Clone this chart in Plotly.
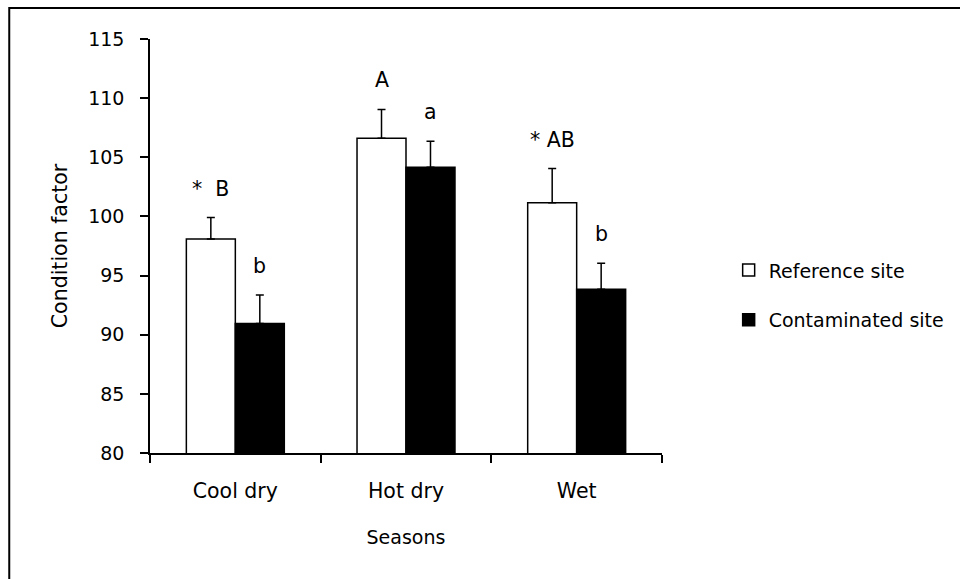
import plotly.graph_objects as go

seasons = ["Cool dry", "Hot dry", "Wet"]
reference_mean = [98.1, 106.6, 101.15]
reference_err = [1.8, 2.45, 2.9]
contaminated_mean = [90.95, 104.15, 93.85]
contaminated_err = [2.4, 2.2, 2.2]
reference_labels = ["*  B", "A", "* AB"]
contaminated_labels = ["b", "a", "b"]
y_ticks = [80, 85, 90, 95, 100, 105, 110, 115]

FONT = "DejaVu Sans"
FS = 19
tfont = dict(family=FONT, size=FS, color="black")
bigfont = dict(family=FONT, size=20.5, color="black")

fig = go.Figure()
fig.add_trace(go.Bar(
    name="Reference site", x=seasons, y=reference_mean,
    marker=dict(color="white", line=dict(color="black", width=1.5)),
    error_y=dict(type="data", symmetric=False, array=reference_err,
                 arrayminus=[0] * len(seasons), color="black", thickness=1.5, width=4),
    legendgroup="r",
))
fig.add_trace(go.Bar(
    name="Contaminated site", x=seasons, y=contaminated_mean,
    marker=dict(color="black", line=dict(color="black", width=1.5)),
    error_y=dict(type="data", symmetric=False, array=contaminated_err,
                 arrayminus=[0] * len(seasons), color="black", thickness=1.5, width=4),
    legendgroup="c",
))

bargap = 0.426
half = (1 - bargap) / 4
annotations = []
for i in range(len(seasons)):
    annotations.append(dict(x=i - half, y=reference_mean[i] + reference_err[i], xref="x", yref="y",
                            text=reference_labels[i], showarrow=False, yanchor="bottom", yshift=15,
                            font=bigfont))
    annotations.append(dict(x=i + half, y=contaminated_mean[i] + contaminated_err[i], xref="x", yref="y",
                            text=contaminated_labels[i], showarrow=False, yanchor="bottom", yshift=15,
                            font=bigfont))

fig.update_layout(
    width=960, height=579,
    margin=dict(l=150, r=297, t=39, b=126),
    paper_bgcolor="white", plot_bgcolor="white",
    barmode="group", bargap=bargap, bargroupgap=0,
    font=tfont,
    showlegend=True,
    legend=dict(x=1.128, y=0.381, xanchor="left", yanchor="middle",
                font=tfont, traceorder="grouped", tracegroupgap=22, bgcolor="rgba(0,0,0,0)"),
    annotations=annotations,
    shapes=[dict(type="rect", xref="paper", yref="paper", x0=-0.2749, x1=1.7, y0=-0.4, y1=1.0749,
                 line=dict(color="black", width=2), fillcolor="rgba(0,0,0,0)", layer="below")],
    xaxis=dict(showline=True, linecolor="black", linewidth=1.5, ticks="outside", ticklen=8,
               tickwidth=1.5, tickcolor="black", tickson="boundaries", showgrid=False,
               tickfont=bigfont, ticklabelstandoff=19,
               title=dict(text="Seasons", standoff=28, font=tfont), zeroline=False),
    yaxis=dict(range=[80, 115], tickvals=y_ticks, showline=True, linecolor="black", linewidth=1.5,
               ticks="outside", ticklen=8, tickwidth=1.5, tickcolor="black", showgrid=False,
               tickfont=tfont, ticklabelstandoff=12,
               zeroline=False, title=dict(text="Condition factor", standoff=15, font=bigfont)),
)

fig.write_html("out.html")
